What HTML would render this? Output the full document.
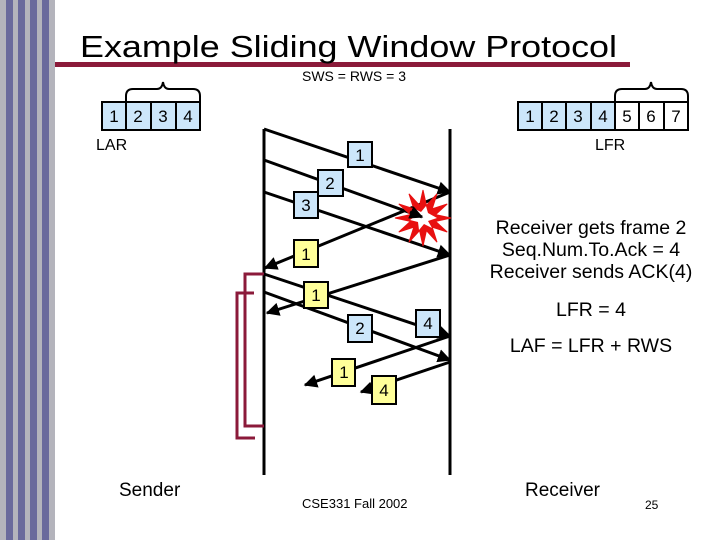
<!DOCTYPE html>
<html><head><meta charset="utf-8"><style>
html,body{margin:0;padding:0;background:#fff;}
svg{display:block;font-family:"Liberation Sans",Arial,sans-serif;}
</style></head><body>
<svg width="720" height="540" viewBox="0 0 720 540" xmlns="http://www.w3.org/2000/svg">
<defs>
<marker id="ah" viewBox="0 0 10 10" refX="9" refY="5" markerWidth="4.5" markerHeight="4.5" orient="auto"><path d="M0,0 L10,5 L0,10 z" fill="#000"/></marker>
</defs>
<rect x="0" y="0" width="55" height="540" fill="#b4b4bc"/>
<rect x="6" y="0" width="7" height="540" fill="#6a6a9c"/>
<rect x="18" y="0" width="7" height="540" fill="#6a6a9c"/>
<rect x="30" y="0" width="7" height="540" fill="#6a6a9c"/>
<rect x="42" y="0" width="7" height="540" fill="#6a6a9c"/>
<rect x="55" y="62" width="575" height="5" fill="#8b1a3a"/>
<text x="80" y="57" font-size="31" fill="#000" textLength="537" lengthAdjust="spacingAndGlyphs">Example Sliding Window Protocol</text>
<text x="302" y="81" font-size="14">SWS = RWS = 3</text>
<!-- sender boxes -->
<g stroke="#000" stroke-width="2" fill="#cce6fa">
<rect x="102" y="102" width="24" height="28"/><rect x="126" y="102" width="25" height="28"/><rect x="151" y="102" width="25" height="28"/><rect x="176" y="102" width="24" height="28"/>
</g>
<g font-size="17" text-anchor="middle"><text x="114" y="122">1</text><text x="138" y="122">2</text><text x="163" y="122">3</text><text x="188" y="122">4</text></g>
<path d="M126,102 V96 Q126,89 133,89 H157 Q162,89 163,82 Q164,89 169,89 H193 Q200,89 200,96 V102" fill="none" stroke="#000" stroke-width="2"/>
<text x="96" y="150" font-size="16">LAR</text>
<!-- receiver boxes -->
<g stroke="#000" stroke-width="2">
<rect x="518" y="102" width="24" height="28" fill="#cce6fa"/><rect x="542" y="102" width="24" height="28" fill="#cce6fa"/><rect x="566" y="102" width="25" height="28" fill="#cce6fa"/><rect x="591" y="102" width="24" height="28" fill="#cce6fa"/>
<rect x="615" y="102" width="24" height="28" fill="#fff"/><rect x="639" y="102" width="25" height="28" fill="#fff"/><rect x="664" y="102" width="24" height="28" fill="#fff"/>
</g>
<g font-size="17" text-anchor="middle"><text x="530" y="122">1</text><text x="554" y="122">2</text><text x="578" y="122">3</text><text x="603" y="122">4</text><text x="627" y="122">5</text><text x="651" y="122">6</text><text x="676" y="122">7</text></g>
<path d="M615,102 V96 Q615,89 622,89 H645 Q650,89 651,82 Q652,89 657,89 H681 Q688,89 688,96 V102" fill="none" stroke="#000" stroke-width="2"/>
<text x="595" y="150" font-size="16">LFR</text>
<!-- timelines -->
<line x1="264" y1="129" x2="264" y2="475" stroke="#000" stroke-width="3"/>
<line x1="450" y1="129" x2="450" y2="475" stroke="#000" stroke-width="3"/>
<!-- red brackets -->
<path d="M264,274 H245 V426 H264" fill="none" stroke="#8b1a3a" stroke-width="3"/>
<path d="M254,293 H237 V438 H255" fill="none" stroke="#8b1a3a" stroke-width="3"/>
<!-- lines -->
<g stroke="#000" stroke-width="3" fill="none" marker-end="url(#ah)">
<line x1="264" y1="129" x2="450" y2="192"/>
<line x1="264" y1="160" x2="422" y2="217"/>
<line x1="264" y1="192" x2="450" y2="255"/>
<line x1="450" y1="192" x2="265" y2="268"/>
<line x1="450" y1="255" x2="267" y2="313"/>
<line x1="264" y1="274" x2="450" y2="336"/>
<line x1="264" y1="292" x2="450" y2="360"/>
<line x1="450" y1="336" x2="305" y2="385"/>
<line x1="450" y1="362" x2="361" y2="392"/>
</g>
<!-- explosion -->
<polygon points="451,218 435.6,221.4 447.2,232 432.2,227.2 437,242.2 426.4,230.6 423,246 419.6,230.6 409,242.2 413.8,227.2 398.8,232 410.4,221.4 395,218 410.4,214.6 398.8,204 413.8,208.8 409,193.8 419.6,205.4 423,190 426.4,205.4 437,193.8 432.2,208.8 447.2,204 435.6,214.6" fill="#e81010" stroke="#e81010"/>
<polygon points="437,218 428,221 432,228 424,224 419,230 418,222 410,220 417,215 413,208 421,212 426,206 428,213" fill="#fff"/>
<line x1="410" y1="212" x2="422" y2="217" stroke="#000" stroke-width="3" marker-end="url(#ah)"/>
<!-- packet boxes -->
<g stroke="#000" stroke-width="2">
<rect x="348" y="142" width="24" height="25" fill="#cce6fa"/>
<rect x="318" y="170" width="25" height="26" fill="#cce6fa"/>
<rect x="294" y="192" width="24" height="26" fill="#cce6fa"/>
<rect x="294" y="240" width="24" height="27" fill="#ffff99"/>
<rect x="304" y="282" width="24" height="26" fill="#ffff99"/>
<rect x="348" y="315" width="24" height="27" fill="#cce6fa"/>
<rect x="416" y="310" width="24" height="27" fill="#cce6fa"/>
<rect x="332" y="359" width="23" height="27" fill="#ffff99"/>
<rect x="372" y="376" width="24" height="28" fill="#ffff99"/>
</g>
<g font-size="17" text-anchor="middle">
<text x="360" y="161">1</text><text x="330" y="189">2</text><text x="306" y="211">3</text>
<text x="306" y="260">1</text><text x="316" y="301">1</text><text x="360" y="334">2</text>
<text x="428" y="329">4</text><text x="344" y="378">1</text><text x="384" y="396">4</text>
</g>
<g font-size="19.5" text-anchor="middle">
<text x="591" y="234">Receiver gets frame 2</text>
<text x="591" y="256">Seq.Num.To.Ack = 4</text>
<text x="591" y="278">Receiver sends ACK(4)</text>
<text x="591" y="316">LFR = 4</text>
<text x="591" y="352">LAF = LFR + RWS</text>
</g>
<text x="119" y="496" font-size="19">Sender</text>
<text x="525" y="496" font-size="19">Receiver</text>
<text x="302" y="508" font-size="13">CSE331 Fall 2002</text>
<text x="645" y="509" font-size="12">25</text>
</svg>
</body></html>
